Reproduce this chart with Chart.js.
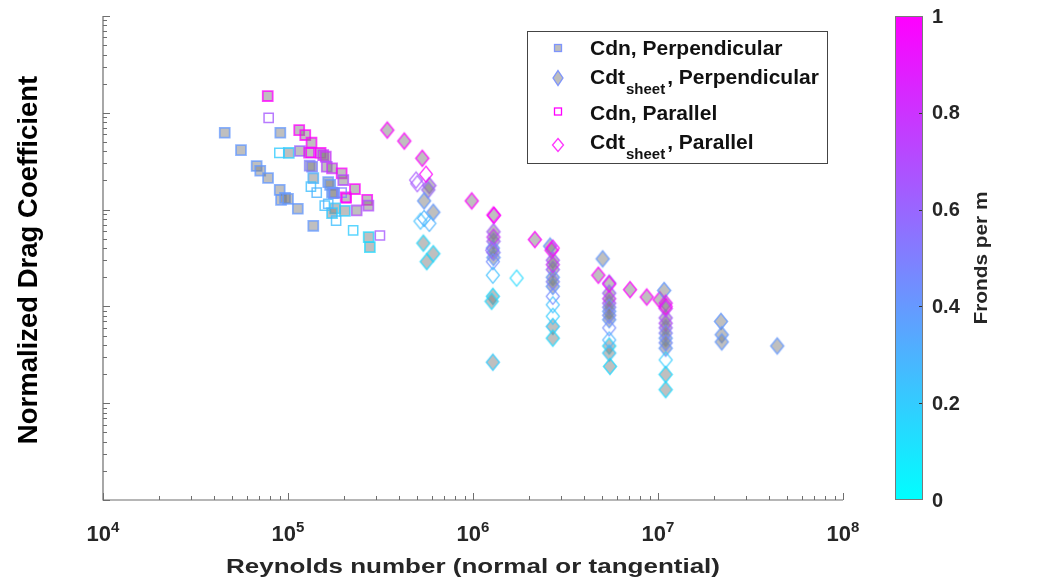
<!DOCTYPE html>
<html>
<head>
<meta charset="utf-8">
<title>Normalized Drag Coefficient vs Reynolds number</title>
<script src="https://cdn.jsdelivr.net/npm/chart.js@4.4.1/dist/chart.umd.min.js"></script>
<style>
  html, body { margin: 0; padding: 0; background: #fff; }
  #wrap { position: relative; width: 1043px; height: 579px; }
</style>
</head>
<body>
<div id="wrap"><canvas id="chart"></canvas></div>
<script>
// ---------------------------
// Data (Re, normalized Cd, fronds per m)
// ---------------------------
const cdnPerpRe = [7.77e4, 4.55e4, 9.09e4, 5.57e4, 6.77e4, 7.08e4, 7.80e4, 9.02e4, 9.17e4, 9.64e4,
    1.00e5, 1.13e5, 1.37e5, 1.01e5, 1.16e5, 1.15e5, 1.24e5, 1.34e5, 1.30e5, 1.50e5,
    1.55e5, 1.60e5, 1.31e5, 1.35e5, 1.62e5, 1.73e5, 1.95e5, 1.99e5, 1.37e5, 1.65e5,
    1.69e5, 1.73e5, 1.77e5, 2.30e5, 2.05e5, 2.35e5, 2.68e5, 2.72e5, 1.80e5, 2.03e5,
    1.73e5, 2.73e5, 2.77e5];
const cdnPerpCd = [14.9, 6.22, 6.22, 4.12, 2.82, 2.52, 2.12, 1.60, 1.26, 1.32,
    1.29, 1.02, 0.68, 3.85, 4.03, 6.63, 5.89, 4.91, 3.87, 3.85,
    3.66, 3.52, 2.84, 2.77, 2.77, 2.67, 2.37, 2.02, 2.11, 1.92,
    1.80, 1.50, 1.48, 1.63, 1.34, 0.98, 1.26, 1.10, 1.03, 0.97,
    0.92, 0.52, 0.41];
const cdnPerpFronds = [1.0, 0.4, 0.4, 0.4, 0.4, 0.4, 0.4, 0.4, 0.4, 0.4,
    0.4, 0.4, 0.4, 0.2, 0.6, 1.0, 1.0, 1.0, 0.9, 1.0,
    0.8, 0.8, 0.5, 0.5, 0.7, 0.8, 1.0, 0.7, 0.3, 0.4,
    0.4, 0.4, 0.4, 1.0, 1.0, 0.7, 1.0, 0.7, 0.2, 0.2,
    0.2, 0.15, 0.15];

const cdtPerpRe = [3.44e5, 4.25e5, 5.32e5, 5.81e5, 5.73e5, 5.44e5, 6.10e5, 5.39e5, 6.10e5, 5.62e5,
    9.84e5, 1.29e6, 1.29e6, 1.29e6, 1.28e6, 1.29e6, 1.28e6, 1.26e6, 1.28e6, 1.29e6, 1.29e6,
    2.16e6, 2.61e6, 2.66e6, 2.70e6, 2.70e6, 2.70e6, 2.70e6, 2.70e6, 2.70e6, 2.70e6, 2.70e6,
    5.02e6, 4.76e6, 5.45e6, 5.45e6, 5.45e6, 5.45e6, 5.45e6, 5.45e6, 5.45e6, 5.50e6, 5.45e6, 5.45e6, 5.45e6,
    7.06e6, 8.69e6, 1.02e7, 1.08e7, 1.10e7, 1.10e7, 1.10e7, 1.10e7, 1.10e7, 1.10e7, 1.10e7, 1.10e7, 1.10e7, 1.10e7, 1.10e7,
    2.19e7, 2.21e7, 2.21e7, 4.41e7];
const cdtPerpCd = [6.63, 5.11, 3.39, 1.77, 1.60, 1.23, 0.94, 0.45, 0.35, 0.29,
    1.23, 0.88, 0.59, 0.47, 0.40, 0.32, 0.127, 0.113, 0.0265, 0.52, 0.36,
    0.49, 0.42, 0.38, 0.30, 0.24, 0.20, 0.161, 0.062, 0.047, 0.27, 0.18,
    0.31, 0.21, 0.174, 0.137, 0.108, 0.089, 0.073, 0.039, 0.033, 0.024, 0.12, 0.098, 0.081,
    0.149, 0.125, 0.117, 0.146, 0.108, 0.076, 0.060, 0.047, 0.037, 0.0198, 0.0138, 0.095, 0.067, 0.053, 0.042,
    0.070, 0.051, 0.043, 0.039];
const cdtPerpFronds = [1, 1, 1, 0.65, 0.6, 0.4, 0.4, 0.15, 0.15, 0.15,
    1, 1, 0.65, 0.6, 0.4, 0.4, 0.15, 0.15, 0.2, 0.8, 0.5,
    1, 0.4, 1, 0.65, 0.6, 0.4, 0.4, 0.2, 0.15, 0.8, 0.5,
    0.4, 1, 0.65, 0.6, 0.65, 0.4, 0.4, 0.15, 0.2, 0.15, 0.8, 0.5, 0.45,
    1, 1, 1, 0.4, 0.9, 0.65, 0.6, 0.4, 0.4, 0.15, 0.15, 0.8, 0.7, 0.5, 0.45,
    0.4, 0.4, 0.4, 0.4];

const cdnParRe = [7.86e4, 8.98e4, 1.33e5, 1.43e5, 1.58e5, 1.65e5, 1.82e5, 2.25e5, 3.14e5, 1.78e5, 1.95e5, 1.33e5, 2.07e5];
const cdnParCd = [8.87, 3.85, 1.73, 1.50, 1.10, 1.15, 0.77, 0.61, 0.54, 1.48, 1.50, 3.87, 1.31];
const cdnParFronds = [0.65, 0.2, 0.25, 0.3, 0.25, 0.3, 0.25, 0.2, 0.65, 0.45, 0.5, 1.0, 1.0];

const cdtParRe = [5.57e5, 4.92e5, 5.00e5, 5.44e5, 5.81e5, 5.20e5, 1.30e6, 1.27e6, 1.28e6, 1.28e6, 1.72e6,
    2.70e6, 2.70e6, 2.70e6, 2.70e6, 5.45e6, 5.45e6, 5.45e6, 1.10e7, 1.10e7];
const cdtParCd = [2.32, 2.02, 1.85, 0.81, 0.72, 0.76, 0.87, 0.38, 0.29, 0.21, 0.196,
    0.40, 0.127, 0.104, 0.079, 0.17, 0.060, 0.045, 0.10, 0.028];
const cdtParFronds = [1, 0.65, 0.65, 0.3, 0.3, 0.25, 1, 0.6, 0.45, 0.25, 0.15,
    1, 0.45, 0.25, 0.2, 1, 0.45, 0.3, 1, 0.2];

// Axis / colorbar ticks
const xTickExponents = [4, 5, 6, 7, 8];
const yTickExponents = [-3, -2, -1, 0, 1, 2];
const colorbarTicks = [0, 0.2, 0.4, 0.6, 0.8, 1];

// Legend entries: [main, subscript, rest]
const legendEntries = [
    ["Cdn, Perpendicular", "", ""],
    ["Cdt", "sheet", ", Perpendicular"],
    ["Cdn, Parallel", "", ""],
    ["Cdt", "sheet", ", Parallel"]
];

const FONT = "'Liberation Sans', Arial, Helvetica, sans-serif";
const TEXT_COLOR = "#262626";
const AXIS_COLOR = "#6e6e6e";
const GRAY_FILL = "rgba(128,128,128,0.5)";

// MATLAB "cool" colormap
function coolColor(v, a) {
    return `rgba(${Math.round(255 * v)},${Math.round(255 * (1 - v))},255,${a})`;
}

function toPoints(re, cd) {
    return re.map((x, i) => ({ x: x, y: cd[i] }));
}

// Tall diamond marker (like MATLAB 'd'), cached per colour
const diamondCache = {};
function diamondMarker(stroke, fill, lw) {
    const key = stroke + "|" + fill + "|" + lw;
    if (diamondCache[key]) return diamondCache[key];
    const hw = 6.5, hh = 8;
    const c = document.createElement("canvas");
    c.width = 18;
    c.height = 21;
    const g = c.getContext("2d");
    const cx = c.width / 2, cy = c.height / 2;
    g.beginPath();
    g.moveTo(cx, cy - hh);
    g.lineTo(cx + hw, cy);
    g.lineTo(cx, cy + hh);
    g.lineTo(cx - hw, cy);
    g.closePath();
    if (fill) {
        g.fillStyle = fill;
        g.fill();
    }
    g.strokeStyle = stroke;
    g.lineWidth = lw;
    g.stroke();
    diamondCache[key] = c;
    return c;
}

// draw text horizontally stretched to a given width, centered on (cx, baseY)
function fitText(ctx, str, cx, baseY, width) {
    const w = ctx.measureText(str).width;
    ctx.save();
    ctx.translate(cx, baseY);
    ctx.scale(width / w, 1);
    ctx.textAlign = "center";
    ctx.textBaseline = "alphabetic";
    ctx.fillText(str, 0, 0);
    ctx.restore();
}

// ---------------------------
// Axes, labels, colorbar and legend
// ---------------------------
const decorations = {
    id: "decorations",
    afterDraw(chart) {
        const { ctx, chartArea: a, scales: { x, y } } = chart;
        ctx.save();

        // axis lines (box off: left + bottom)
        ctx.strokeStyle = AXIS_COLOR;
        ctx.lineWidth = 1.2;
        ctx.beginPath();
        ctx.moveTo(a.left, a.top);
        ctx.lineTo(a.left, a.bottom);
        ctx.lineTo(a.right, a.bottom);
        ctx.stroke();

        // inward log ticks
        ctx.lineWidth = 1;
        ctx.beginPath();
        xTickExponents.forEach((p, i) => {
            const last = i === xTickExponents.length - 1;
            for (let m = 1; m <= (last ? 1 : 9); m++) {
                const px = Math.round(x.getPixelForValue(m * 10 ** p)) + 0.5;
                const len = m === 1 ? 7 : 4;
                ctx.moveTo(px, a.bottom);
                ctx.lineTo(px, a.bottom - len);
            }
        });
        yTickExponents.forEach((p, i) => {
            const last = i === yTickExponents.length - 1;
            for (let m = 1; m <= (last ? 1 : 9); m++) {
                const py = Math.round(y.getPixelForValue(m * 10 ** p)) + 0.5;
                const len = m === 1 ? 7 : 4;
                ctx.moveTo(a.left, py);
                ctx.lineTo(a.left + len, py);
            }
        });
        ctx.stroke();

        // x tick labels 10^n
        ctx.fillStyle = TEXT_COLOR;
        ctx.textBaseline = "alphabetic";
        ctx.textAlign = "left";
        xTickExponents.forEach(p => {
            const px = x.getPixelForValue(10 ** p);
            ctx.font = `bold 22px ${FONT}`;
            const wBase = ctx.measureText("10").width;
            ctx.font = `bold 15px ${FONT}`;
            const wExp = ctx.measureText(String(p)).width;
            const left = px - (wBase + wExp) / 2;
            ctx.font = `bold 22px ${FONT}`;
            ctx.fillText("10", left, 541);
            ctx.font = `bold 15px ${FONT}`;
            ctx.fillText(String(p), left + wBase, 531.5);
        });

        // x axis title
        ctx.font = `bold 20px ${FONT}`;
        fitText(ctx, "Reynolds number (normal or tangential)", (a.left + a.right) / 2, 572.5, 494);

        // y axis title
        ctx.fillStyle = "#000";
        ctx.font = `bold 27.5px ${FONT}`;
        ctx.save();
        ctx.translate(37, 260);
        ctx.rotate(-Math.PI / 2);
        ctx.textAlign = "center";
        ctx.fillText("Normalized Drag Coefficient", 0, 0);
        ctx.restore();

        // colorbar
        const cbL = 895, cbW = 28;
        const grad = ctx.createLinearGradient(0, a.bottom, 0, a.top);
        grad.addColorStop(0, coolColor(0, 1));
        grad.addColorStop(1, coolColor(1, 1));
        ctx.fillStyle = grad;
        ctx.fillRect(cbL, a.top, cbW, a.bottom - a.top);
        ctx.strokeStyle = "#7a7a7a";
        ctx.lineWidth = 1;
        ctx.strokeRect(cbL + 0.5, a.top + 0.5, cbW - 1, a.bottom - a.top - 1);

        ctx.fillStyle = TEXT_COLOR;
        ctx.font = `bold 20px ${FONT}`;
        ctx.textAlign = "left";
        ctx.textBaseline = "middle";
        ctx.strokeStyle = "#333";
        colorbarTicks.forEach(v => {
            const py = a.bottom - v * (a.bottom - a.top);
            if (v > 0 && v < 1) {
                ctx.beginPath();
                ctx.moveTo(cbL + cbW - 1, Math.round(py) + 0.5);
                ctx.lineTo(cbL + cbW - 4, Math.round(py) + 0.5);
                ctx.stroke();
            }
            ctx.fillText(String(v), 932, py + 1);
        });

        // colorbar title
        ctx.font = `bold 18px ${FONT}`;
        ctx.textBaseline = "alphabetic";
        ctx.save();
        ctx.translate(987, 258);
        ctx.rotate(-Math.PI / 2);
        fitText(ctx, "Fronds per m", 0, 0, 133);
        ctx.restore();

        drawLegend(ctx);
        ctx.restore();
    }
};

function drawLegend(ctx) {
    ctx.fillStyle = "#fff";
    ctx.fillRect(527, 31, 301, 133);
    ctx.strokeStyle = "#444";
    ctx.lineWidth = 1;
    ctx.strokeRect(527.5, 31.5, 300, 132);

    const baselines = [55, 83.5, 120, 148.5];
    const centers = [48, 78, 111.5, 145];
    const mx = 558;

    // markers
    ctx.lineWidth = 1.3;
    // filled square
    ctx.fillStyle = "#bdbdbd";
    ctx.strokeStyle = coolColor(0.45, 0.9);
    ctx.fillRect(mx - 3.5, centers[0] - 3.5, 7, 7);
    ctx.strokeRect(mx - 3.5, centers[0] - 3.5, 7, 7);
    // filled diamond
    ctx.beginPath();
    ctx.moveTo(mx, centers[1] - 7.5); ctx.lineTo(mx + 5, centers[1]);
    ctx.lineTo(mx, centers[1] + 7.5); ctx.lineTo(mx - 5, centers[1]);
    ctx.closePath();
    ctx.fill(); ctx.stroke();
    // hollow square
    ctx.strokeStyle = coolColor(1, 1);
    ctx.strokeRect(mx - 3.5, centers[2] - 3.5, 7, 7);
    // hollow diamond
    ctx.strokeStyle = coolColor(1, 0.8);
    ctx.beginPath();
    ctx.moveTo(mx, centers[3] - 6.5); ctx.lineTo(mx + 5.5, centers[3]);
    ctx.lineTo(mx, centers[3] + 6.5); ctx.lineTo(mx - 5.5, centers[3]);
    ctx.closePath();
    ctx.stroke();

    // labels
    ctx.fillStyle = "#111";
    ctx.textAlign = "left";
    ctx.textBaseline = "alphabetic";
    legendEntries.forEach((parts, i) => {
        let tx = 590;
        ctx.font = `bold 21px ${FONT}`;
        ctx.fillText(parts[0], tx, baselines[i]);
        tx += ctx.measureText(parts[0]).width;
        if (parts[1]) {
            ctx.font = `bold 15px ${FONT}`;
            ctx.fillText(parts[1], tx + 1, baselines[i] + 10);
            tx += ctx.measureText(parts[1]).width + 3;
            ctx.font = `bold 21px ${FONT}`;
            ctx.fillText(parts[2], tx, baselines[i]);
        }
    });
}

// ---------------------------
// Chart
// ---------------------------
const datasets = [
    {
        label: "Cdt sheet, Parallel",
        data: toPoints(cdtParRe, cdtParCd),
        pointStyle: cdtParFronds.map(v => diamondMarker(coolColor(v, 0.8), null, 1.3)),
        pointRadius: 8
    },
    {
        label: "Cdn, Parallel",
        data: toPoints(cdnParRe, cdnParCd),
        pointStyle: "rect",
        pointRadius: 6.5,
        pointBackgroundColor: "rgba(255,255,255,0)",
        pointBorderColor: cdnParFronds.map(v => coolColor(v, 0.8)),
        pointBorderWidth: 1.5
    },
    {
        label: "Cdt sheet, Perpendicular",
        data: toPoints(cdtPerpRe, cdtPerpCd),
        pointStyle: cdtPerpFronds.map(v => diamondMarker(coolColor(v, 0.75), GRAY_FILL, 1.6)),
        pointRadius: 8
    },
    {
        label: "Cdn, Perpendicular",
        data: toPoints(cdnPerpRe, cdnPerpCd),
        pointStyle: "rect",
        pointRadius: 7,
        pointBackgroundColor: GRAY_FILL,
        pointBorderColor: cdnPerpFronds.map(v => coolColor(v, 0.75)),
        pointBorderWidth: 1.8
    }
];

new Chart(document.getElementById("chart"), {
    type: "scatter",
    data: { datasets: datasets },
    options: {
        responsive: true,
        maintainAspectRatio: false,
        devicePixelRatio: 1,
        animation: false,
        events: [],
        layout: { padding: { left: 103, right: 200, top: 16, bottom: 79 } },
        scales: {
            x: { type: "logarithmic", min: 1e4, max: 1e8, display: false },
            y: { type: "logarithmic", min: 1e-3, max: 1e2, display: false }
        },
        plugins: {
            legend: { display: false },
            tooltip: { enabled: false }
        }
    },
    plugins: [decorations]
});
</script>
</body>
</html>
